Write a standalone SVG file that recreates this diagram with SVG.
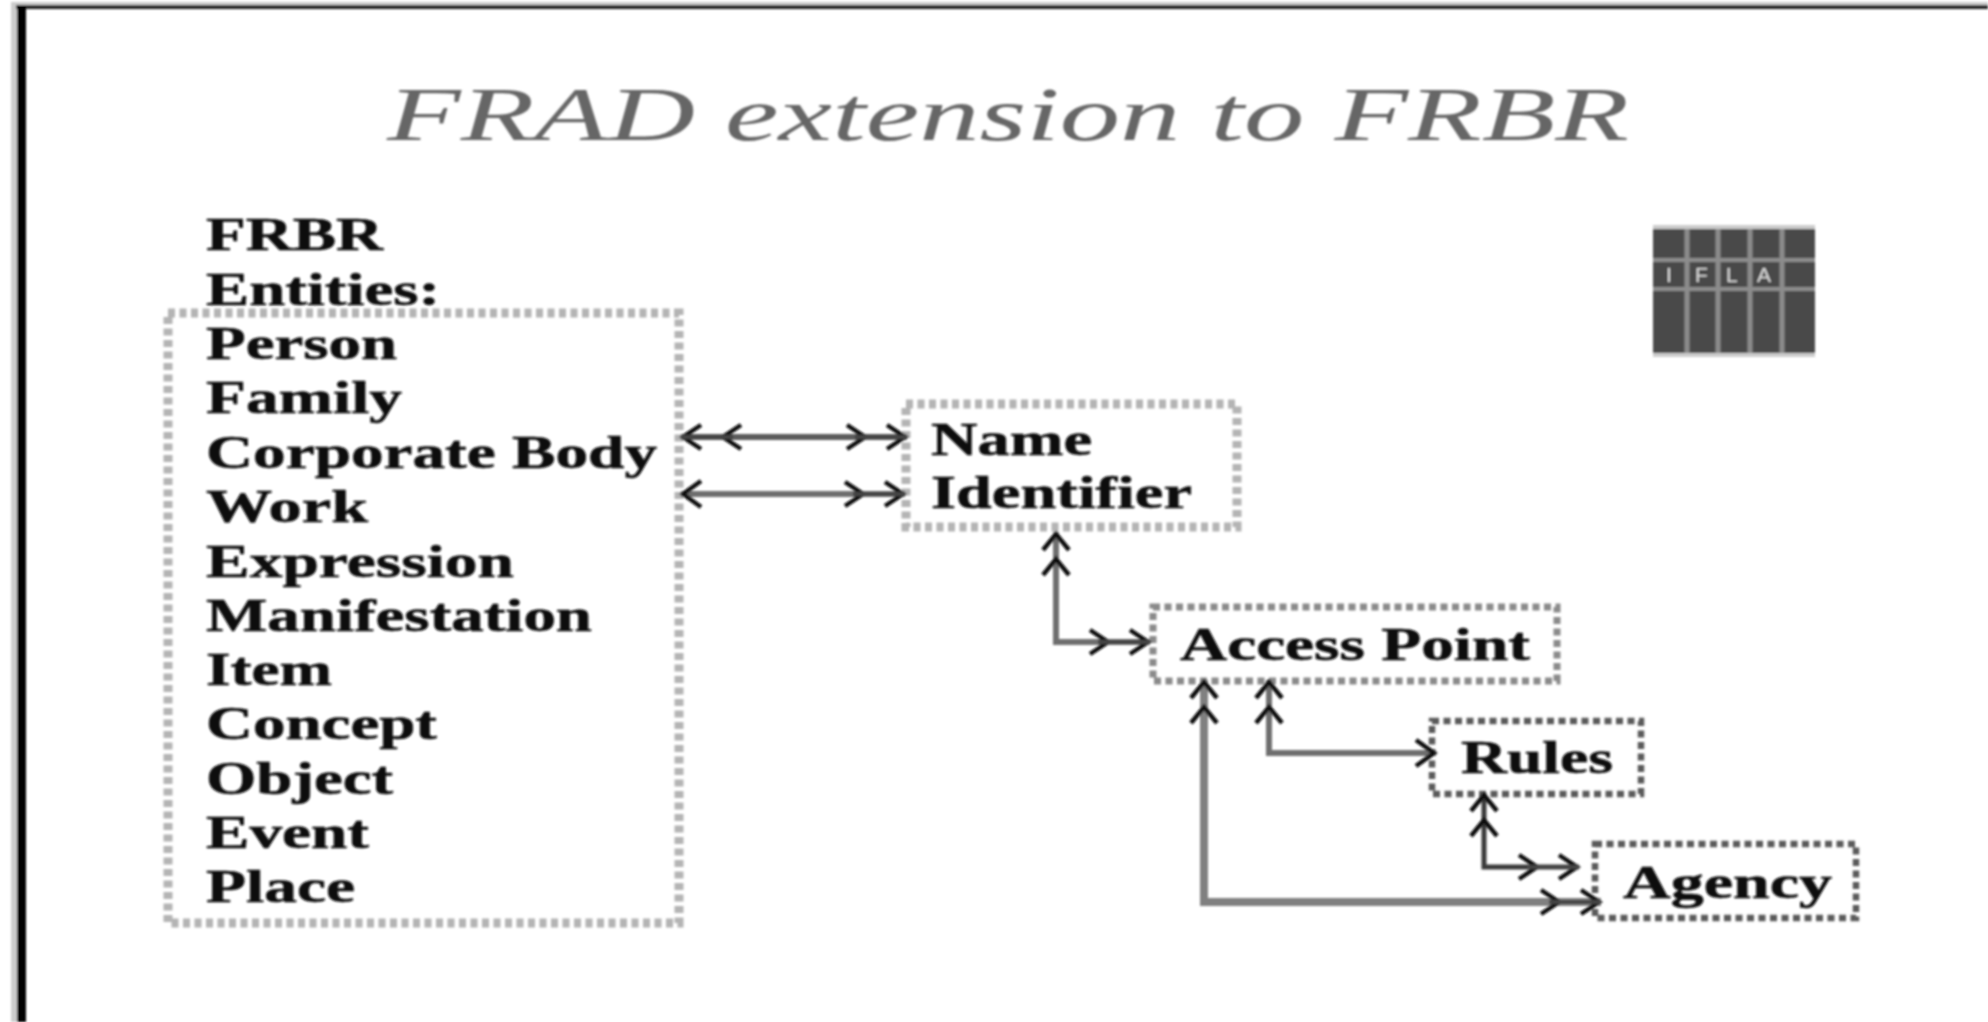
<svg xmlns="http://www.w3.org/2000/svg" width="1988" height="1022" viewBox="0 0 1988 1022">
<style>
.lbl{font-family:"Liberation Serif","Times New Roman",serif;font-weight:700;font-size:47px;fill:#111;stroke:#111;stroke-width:.6}
.title{font-family:"Liberation Serif","Times New Roman",serif;font-style:italic;font-size:76px;fill:#666}
.box{fill:none;stroke-dasharray:7 4.5}
.lt{stroke:#b4b4b4;stroke-width:9}
.md{stroke:#8a8a8a;stroke-width:7}
.dk{stroke:#5a5a5a;stroke-width:6.5}
.c{fill:none;stroke-linejoin:miter}
.c1{stroke:#5c5c5c;stroke-width:6}
.c2{stroke:#6e6e6e;stroke-width:6}
.c3{stroke:#3a3a3a;stroke-width:5}
.c4{stroke:#808080;stroke-width:8}
.logo{font-family:"Liberation Sans",Arial,sans-serif;font-size:21px;fill:#ddd}
</style>
<defs>
<filter id="soft" x="-2%" y="-2%" width="104%" height="104%"><feGaussianBlur stdDeviation="1"/></filter>
<marker id="h2" markerUnits="userSpaceOnUse" viewBox="0 0 64 32" refX="62" refY="16" markerWidth="64" markerHeight="32" orient="auto-start-reverse"><path d="M42 4L60 16L42 28M2 4L20 16L2 28" fill="none" stroke="#111" stroke-width="4.5"/><path d="M10 16H62" stroke="#444" stroke-width="4"/></marker>
<marker id="v2" markerUnits="userSpaceOnUse" viewBox="0 0 50 32" refX="48" refY="16" markerWidth="50" markerHeight="32" orient="auto-start-reverse"><path d="M30 3L46 16L30 29M5 3L21 16L5 29" fill="none" stroke="#111" stroke-width="4.5"/></marker>
<marker id="s1" markerUnits="userSpaceOnUse" viewBox="0 0 30 32" refX="26" refY="16" markerWidth="30" markerHeight="32" orient="auto-start-reverse"><path d="M6 3L24 16L6 29" fill="none" stroke="#111" stroke-width="4.5"/></marker>
</defs>
<rect width="1988" height="1022" fill="#fff"/>
<g filter="url(#soft)">
<g id="frame">
<rect x="11" y="2" width="1977" height="3" fill="#ccc"/>
<rect x="11" y="2" width="6" height="1020" fill="#ccc"/>
<rect x="16" y="5" width="1972" height="4" fill="#222"/>
<rect x="17" y="5" width="9" height="1017" fill="#000"/>
</g>
<text id="title" class="title" x="387" y="140" textLength="1242" lengthAdjust="spacingAndGlyphs">FRAD extension to FRBR</text>

<g id="frbr-heading">
<text class="lbl" x="206" y="250" textLength="177" lengthAdjust="spacingAndGlyphs">FRBR</text>
<text class="lbl" x="206" y="305" textLength="234" lengthAdjust="spacingAndGlyphs">Entities:</text>
</g>
<g id="frbr-entities">
<rect class="box lt" x="168" y="313" width="511" height="610"/>
<text class="lbl" x="206" y="359" textLength="191" lengthAdjust="spacingAndGlyphs">Person</text>
<text class="lbl" x="206" y="413" textLength="196" lengthAdjust="spacingAndGlyphs">Family</text>
<text class="lbl" x="206" y="468" textLength="451" lengthAdjust="spacingAndGlyphs">Corporate Body</text>
<text class="lbl" x="206" y="522" textLength="162" lengthAdjust="spacingAndGlyphs">Work</text>
<text class="lbl" x="206" y="577" textLength="308" lengthAdjust="spacingAndGlyphs">Expression</text>
<text class="lbl" x="206" y="631" textLength="386" lengthAdjust="spacingAndGlyphs">Manifestation</text>
<text class="lbl" x="206" y="685" textLength="126" lengthAdjust="spacingAndGlyphs">Item</text>
<text class="lbl" x="206" y="739" textLength="231" lengthAdjust="spacingAndGlyphs">Concept</text>
<text class="lbl" x="206" y="794" textLength="187" lengthAdjust="spacingAndGlyphs">Object</text>
<text class="lbl" x="206" y="848" textLength="163" lengthAdjust="spacingAndGlyphs">Event</text>
<text class="lbl" x="206" y="902" textLength="149" lengthAdjust="spacingAndGlyphs">Place</text>
</g>
<g id="name-identifier">
<rect class="box lt" x="906" y="404" width="331" height="123"/>
<text class="lbl" x="931" y="455" textLength="161" lengthAdjust="spacingAndGlyphs">Name</text>
<text class="lbl" x="931" y="508" textLength="261" lengthAdjust="spacingAndGlyphs">Identifier</text>
</g>
<g id="access-point">
<rect class="box md" x="1153" y="607" width="404" height="74"/>
<text class="lbl" x="1180" y="660" textLength="350" lengthAdjust="spacingAndGlyphs">Access Point</text>
</g>
<g id="rules">
<rect class="box dk" x="1432" y="721" width="209" height="73"/>
<text class="lbl" x="1461" y="773" textLength="152" lengthAdjust="spacingAndGlyphs">Rules</text>
</g>
<g id="agency">
<rect class="box dk" x="1595" y="844" width="261" height="74"/>
<text class="lbl" x="1623" y="898" textLength="209" lengthAdjust="spacingAndGlyphs">Agency</text>
</g>
<g id="ifla-logo">
<rect x="1653" y="225" width="162" height="132" fill="#4a4a4a"/>
<path d="M1687 225V357M1718 225V357M1750 225V357M1782 225V357" stroke="#8c8c8c" stroke-width="5"/>
<path d="M1653 260H1815M1653 289H1815" stroke="#8c8c8c" stroke-width="4"/>
<path d="M1653 227H1815M1653 355H1815" stroke="#ccc" stroke-width="4"/>
<text class="logo" x="1666" y="282">I</text>
<text class="logo" x="1695" y="282">F</text>
<text class="logo" x="1726" y="282">L</text>
<text class="logo" x="1757" y="282">A</text>
</g>
<g id="connectors" class="c">
<path class="c1" d="M681 437H907" marker-start="url(#h2)" marker-end="url(#h2)"/>
<path class="c2" d="M681 494H905" marker-start="url(#s1)" marker-end="url(#h2)"/>
<path class="c2" d="M1056 532V642H1150" marker-start="url(#v2)" marker-end="url(#h2)"/>
<path class="c4" d="M1204 680V902H1601" marker-start="url(#v2)" marker-end="url(#h2)"/>
<path class="c2" d="M1269 680V753H1436" marker-start="url(#v2)" marker-end="url(#s1)"/>
<path class="c3" d="M1484 793V867H1579" marker-start="url(#v2)" marker-end="url(#h2)"/>
</g>
</g>
</svg>
